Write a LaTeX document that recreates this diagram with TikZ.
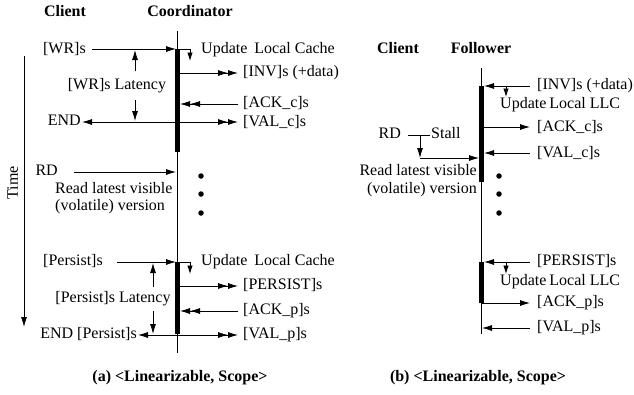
\documentclass[tikz,border=0pt]{standalone}
\usepackage{fontspec}
\setmainfont{Liberation Serif}
\usetikzlibrary{arrows.meta}
\begin{document}
\begin{tikzpicture}[x=1pt,y=-1pt,
  >={Latex[length=10pt,width=6pt]},
  dbl/.style={-{Latex[length=10pt,width=6pt]Latex[length=10pt,width=6pt]}},
  ldbl/.style={{Latex[length=10pt,width=6pt]}-{Latex[length=10pt,width=6pt]Latex[length=10pt,width=6pt]}},
  every node/.style={inner sep=0pt,font=\fontsize{16}{17}\selectfont},
  lbl/.style={text height=11pt,text depth=3.5pt},
  hdr/.style={font=\fontsize{16}{17}\selectfont\bfseries,text height=11pt,text depth=3.5pt},
  thin/.style={line width=0.8pt},
  bar/.style={line width=5pt,line cap=butt},
  small/.style={thin,-{Latex[length=8.5pt,width=5.5pt]}},
  dot/.style={circle,fill=black,minimum size=5.5pt,inner sep=0pt}]
\useasboundingbox (0,0) rectangle (634,394);

% ---------------- Panel (a) ----------------
\node[hdr] (ca) at (65,13) {Client};
\node[hdr] (co) at (190,13) {Coordinator};

\coordinate (Ltop) at (177,31);
\coordinate (Lbot) at (177,353);
\draw[thin] (Ltop) -- (Lbot);
\coordinate (LbarA1) at (177.5,49);
\coordinate (LbarA2) at (177.5,152);
\coordinate (LbarB1) at (177.5,262);
\coordinate (LbarB2) at (177.5,334);
\draw[bar] (LbarA1) -- (LbarA2);
\draw[bar] (LbarB1) -- (LbarB2);

% time axis
\coordinate (T1) at (24,56);
\coordinate (T2) at (24,327);
\draw[thin,->] (T1) -- (T2);
\node[lbl,rotate=90] (time) at (14,183) {Time};

% WR
\node[lbl,anchor=east] (wr) at (86,50) {[WR]s};
\coordinate (wrS) at (92,49);
\coordinate (wrE) at (176,49);
\draw[thin,->] (wrS) -- (wrE);
\node[lbl,anchor=west] (ulc1) at (201,50) {Update\hspace{3pt} Local Cache};
\coordinate (u1a) at (180,49);
\coordinate (u1b) at (190,61);
\draw[small] (u1a) -| (u1b);
\node[lbl,anchor=west] (inv) at (243,73) {[INV]s (+data)};
\coordinate (invS) at (180,73);
\coordinate (invE) at (238,73);
\draw[thin,dbl] (invS) -- (invE);
\node[lbl,anchor=west] (ackc) at (243,104) {[ACK\_c]s};
\coordinate (ackS) at (238,104);
\coordinate (ackE) at (180,104);
\draw[thin,dbl] (ackS) -- (ackE);
\node[lbl,anchor=east] (end1) at (81,122) {END};
\node[lbl,anchor=west] (valc) at (243,123) {[VAL\_c]s};
\coordinate (valL) at (82,122);
\coordinate (valR) at (238,122);
\draw[thin,ldbl] (valL) -- (valR);
\node[lbl] (wrlat) at (117,86) {[WR]s Latency};
\coordinate (la1) at (135,71);
\coordinate (la2) at (135,50);
\coordinate (la3) at (135,100);
\coordinate (la4) at (135,121);
\draw[thin,->] (la1) -- (la2);
\draw[thin,->] (la3) -- (la4);

% RD
\node[lbl,anchor=east] (rd1) at (58,172) {RD};
\coordinate (rdS) at (74,172);
\coordinate (rdE) at (176,172);
\draw[thin,->] (rdS) -- (rdE);
\node[lbl,anchor=west] (rl1) at (55,190) {Read latest visible};
\node[lbl,anchor=west] (rv1) at (55,207) {(volatile) version};
\node[dot] (d1) at (201,176) {};
\node[dot] (d2) at (201,194) {};
\node[dot] (d3) at (201,213) {};

% Persist
\node[lbl,anchor=east] (ps) at (103,262) {[Persist]s};
\coordinate (psS) at (117,262);
\coordinate (psE) at (176,262);
\draw[thin,->] (psS) -- (psE);
\node[lbl,anchor=west] (ulc2) at (201,262) {Update\hspace{3pt} Local Cache};
\coordinate (u2a) at (180,262);
\coordinate (u2b) at (190,274);
\draw[small] (u2a) -| (u2b);
\node[lbl,anchor=west] (pers) at (243,286) {[PERSIST]s};
\coordinate (perS) at (180,286);
\coordinate (perE) at (238,286);
\draw[thin,dbl] (perS) -- (perE);
\node[lbl,anchor=west] (ackp) at (243,311) {[ACK\_p]s};
\coordinate (apS) at (238,311);
\coordinate (apE) at (180,311);
\draw[thin,dbl] (apS) -- (apE);
\node[lbl,anchor=east] (endp) at (137,335) {END [Persist]s};
\node[lbl,anchor=west] (valp) at (243,335) {[VAL\_p]s};
\coordinate (vpL) at (138,335);
\coordinate (vpR) at (238,335);
\draw[thin,ldbl] (vpL) -- (vpR);
\node[lbl] (plat) at (113,299) {[Persist]s Latency};
\coordinate (lb1) at (153,287);
\coordinate (lb2) at (153,263);
\coordinate (lb3) at (153,311);
\coordinate (lb4) at (153,334);
\draw[thin,->] (lb1) -- (lb2);
\draw[thin,->] (lb3) -- (lb4);

\node[hdr] (capa) at (180,378) {(a) <Linearizable, Scope>};

% ---------------- Panel (b) ----------------
\node[hdr] (cb) at (398,50) {Client};
\node[hdr] (fo) at (481,50) {Follower};

\coordinate (Rtop) at (481,68);
\coordinate (Rbot) at (481,334);
\draw[thin] (Rtop) -- (Rbot);
\coordinate (RbarA1) at (481.5,86);
\coordinate (RbarA2) at (481.5,182);
\coordinate (RbarB1) at (481.5,262);
\coordinate (RbarB2) at (481.5,303);
\draw[bar] (RbarA1) -- (RbarA2);
\draw[bar] (RbarB1) -- (RbarB2);

\node[lbl,anchor=west] (inv2) at (537,86) {[INV]s (+data)};
\coordinate (i2S) at (530,86);
\coordinate (i2E) at (484,86);
\draw[thin,->] (i2S) -- (i2E);
\coordinate (u3a) at (506,86);
\coordinate (u3b) at (506,97);
\draw[small] (u3a) -- (u3b);
\node[lbl,anchor=west] (ull1) at (500,105) {Update\hspace{-1pt} Local LLC};
\node[lbl,anchor=west] (ackc2) at (537,128) {[ACK\_c]s};
\coordinate (a2S) at (481,127);
\coordinate (a2E) at (530,127);
\draw[thin,->] (a2S) -- (a2E);
\node[lbl,anchor=west] (valc2) at (537,154) {[VAL\_c]s};
\coordinate (v2S) at (530,153);
\coordinate (v2E) at (484,153);
\draw[thin,->] (v2S) -- (v2E);

\node[lbl,anchor=east] (rd2) at (401,135) {RD};
\node[lbl,anchor=west] (stall) at (431,135) {Stall};
\coordinate (sA) at (408,135);
\coordinate (sB) at (430,135);
\draw[thin] (sA) -- (sB);
\coordinate (sD1) at (420,135);
\coordinate (sD2) at (420,158);
\draw[thin,->] (sD1) -- (sD2);
\coordinate (sE) at (479,158);
\draw[thin,->] (sD2) -- (sE);
\node[lbl,anchor=east] (rl2) at (477,172) {Read latest visible};
\node[lbl,anchor=east] (rv2) at (477,190) {(volatile) version};
\node[dot] (e1) at (499,176) {};
\node[dot] (e2) at (499,194) {};
\node[dot] (e3) at (499,213) {};

\node[lbl,anchor=west] (pers2) at (537,262) {[PERSIST]s};
\coordinate (p2S) at (530,262);
\coordinate (p2E) at (484,262);
\draw[thin,->] (p2S) -- (p2E);
\coordinate (u4a) at (506,262);
\coordinate (u4b) at (506,274);
\draw[small] (u4a) -- (u4b);
\node[lbl,anchor=west] (ull2) at (500,282) {Update\hspace{-1pt} Local LLC};
\node[lbl,anchor=west] (ackp2) at (537,303) {[ACK\_p]s};
\coordinate (ap2S) at (481,303);
\coordinate (ap2E) at (530,303);
\draw[thin,->] (ap2S) -- (ap2E);
\node[lbl,anchor=west] (valp2) at (537,328) {[VAL\_p]s};
\coordinate (vp2S) at (530,328);
\coordinate (vp2E) at (482,328);
\draw[thin,->] (vp2S) -- (vp2E);

\node[hdr] (capb) at (478,378) {(b) <Linearizable, Scope>};
\end{tikzpicture}
\end{document}
